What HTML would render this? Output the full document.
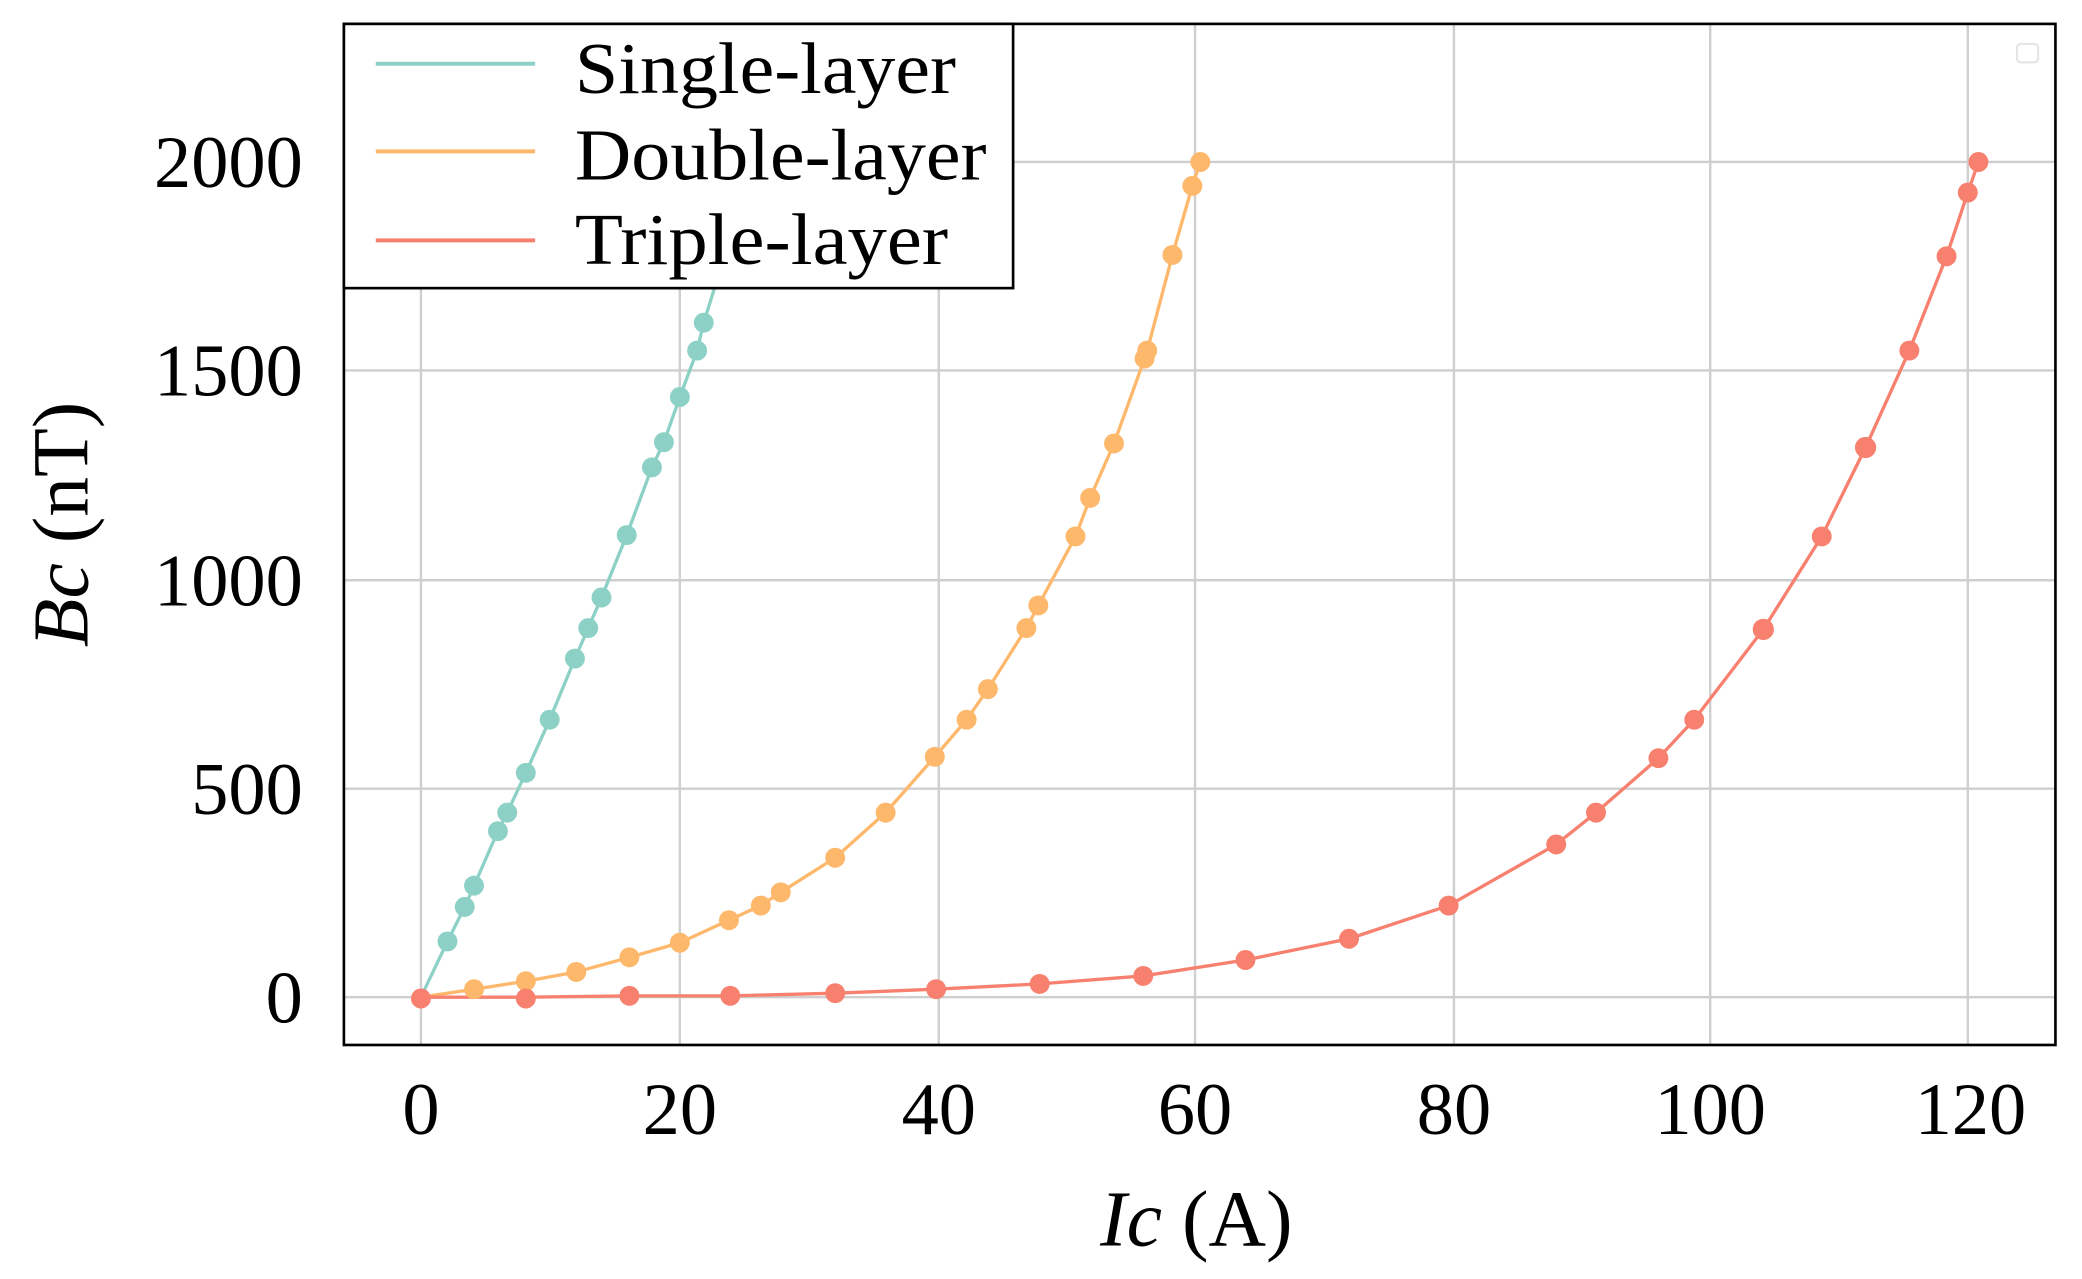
<!DOCTYPE html>
<html><head><meta charset="utf-8"><style>html,body{margin:0;padding:0;background:#fff}svg{display:block}</style></head>
<body>
<svg width="2082" height="1279" viewBox="0 0 2082 1279" xmlns="http://www.w3.org/2000/svg">
<g transform="scale(1.3278)" font-family="Liberation Serif, serif">
<rect x="0" y="0" width="1568" height="964" fill="#fff"/>
<g stroke="#cfcfcf" stroke-width="1.8">
<line x1="317" y1="18" x2="317" y2="787"/><line x1="512" y1="18" x2="512" y2="787"/>
<line x1="707" y1="18" x2="707" y2="787"/><line x1="900" y1="18" x2="900" y2="787"/>
<line x1="1095" y1="18" x2="1095" y2="787"/><line x1="1288" y1="18" x2="1288" y2="787"/>
<line x1="1482" y1="18" x2="1482" y2="787"/>
<line x1="259" y1="751" x2="1548" y2="751"/><line x1="259" y1="594" x2="1548" y2="594"/>
<line x1="259" y1="437" x2="1548" y2="437"/><line x1="259" y1="279" x2="1548" y2="279"/>
<line x1="259" y1="122" x2="1548" y2="122"/>
</g>
<rect x="1519" y="33" width="16" height="14" rx="3" fill="none" stroke="#e4e4e4" stroke-width="1.5"/>
<g fill="none" stroke-width="2.5" stroke-linejoin="round">
<polyline stroke="#8dd1c6" points="317,751 337,709 350,683 357,667 375,626 382,612 396,582 414,542 433,496 443,473 453,450 472,403 491,352 500,333 512,299 525,264 530,243 545,195 560,140"/>
<polyline stroke="#fdb86c" points="317,751 357,745 396,739 434,732 474,721 512,710 549,693 573,682 588,672 629,646 667,612 704,570 728,542 744,519 773,473 782,456 810,404 821,375 839,334 862,270 864,264 883,192 898,140 904,122"/>
<polyline stroke="#f7806f" points="317,751 396,751 474,750 550,750 629,748 705,745 783,741 861,735 938,723 1016,707 1091,682 1172,636 1202,612 1249,571 1276,542 1328,474 1372,404 1405,337 1438,264 1466,193 1482,145 1490,122"/>
</g>
<g fill="#8dd1c6">
<circle cx="337" cy="709" r="7.5"/><circle cx="350" cy="683" r="7.5"/><circle cx="357" cy="667" r="7.5"/><circle cx="375" cy="626" r="7.5"/><circle cx="382" cy="612" r="7.5"/><circle cx="396" cy="582" r="7.5"/><circle cx="414" cy="542" r="7.5"/><circle cx="433" cy="496" r="7.5"/><circle cx="443" cy="473" r="7.5"/><circle cx="453" cy="450" r="7.5"/><circle cx="472" cy="403" r="7.5"/><circle cx="491" cy="352" r="7.5"/><circle cx="500" cy="333" r="7.5"/><circle cx="512" cy="299" r="7.5"/><circle cx="525" cy="264" r="7.5"/><circle cx="530" cy="243" r="7.5"/>
</g>
<g fill="#fdb86c">
<circle cx="357" cy="745" r="7.5"/><circle cx="396" cy="739" r="7.5"/><circle cx="434" cy="732" r="7.5"/><circle cx="474" cy="721" r="7.5"/><circle cx="512" cy="710" r="7.5"/><circle cx="549" cy="693" r="7.5"/><circle cx="573" cy="682" r="7.5"/><circle cx="588" cy="672" r="7.5"/><circle cx="629" cy="646" r="7.5"/><circle cx="667" cy="612" r="7.5"/><circle cx="704" cy="570" r="7.5"/><circle cx="728" cy="542" r="7.5"/><circle cx="744" cy="519" r="7.5"/><circle cx="773" cy="473" r="7.5"/><circle cx="782" cy="456" r="7.5"/><circle cx="810" cy="404" r="7.5"/><circle cx="821" cy="375" r="7.5"/><circle cx="839" cy="334" r="7.5"/><circle cx="862" cy="270" r="7.5"/><circle cx="864" cy="264" r="7.5"/><circle cx="883" cy="192" r="7.5"/><circle cx="898" cy="140" r="7.5"/><circle cx="904" cy="122" r="7.5"/>
</g>
<g fill="#f7806f">
<circle cx="317" cy="752" r="7.5"/><circle cx="396" cy="752" r="7.5"/><circle cx="474" cy="750" r="7.5"/><circle cx="550" cy="750" r="7.5"/><circle cx="629" cy="748" r="7.5"/><circle cx="705" cy="745" r="7.5"/><circle cx="783" cy="741" r="7.5"/><circle cx="861" cy="735" r="7.5"/><circle cx="938" cy="723" r="7.5"/><circle cx="1016" cy="707" r="7.5"/><circle cx="1091" cy="682" r="7.5"/><circle cx="1172" cy="636" r="7.5"/><circle cx="1202" cy="612" r="7.5"/><circle cx="1249" cy="571" r="7.5"/><circle cx="1276" cy="542" r="7.5"/><circle cx="1328" cy="474" r="8"/><circle cx="1372" cy="404" r="7.5"/><circle cx="1405" cy="337" r="8"/><circle cx="1438" cy="264" r="7.5"/><circle cx="1466" cy="193" r="7.5"/><circle cx="1482" cy="145" r="7.5"/><circle cx="1490" cy="122" r="7.5"/>
</g>
<rect x="259" y="18" width="1289" height="769" fill="none" stroke="#000" stroke-width="2"/>
<rect x="259" y="18" width="504" height="199" fill="#fff" stroke="#000" stroke-width="2"/>
<g stroke-width="3">
<line x1="283" y1="48" x2="403" y2="48" stroke="#8dd1c6"/>
<line x1="283" y1="114" x2="403" y2="114" stroke="#fdb86c"/>
<line x1="283" y1="181" x2="403" y2="181" stroke="#f7806f"/>
</g>
<g font-size="55" fill="#000">
<text x="433" y="70" textLength="287" lengthAdjust="spacingAndGlyphs">Single-layer</text>
<text x="433" y="135" textLength="310" lengthAdjust="spacingAndGlyphs">Double-layer</text>
<text x="433" y="199" textLength="281" lengthAdjust="spacingAndGlyphs">Triple-layer</text>
</g>
<g font-size="56" fill="#000" text-anchor="end">
<text x="228" y="770">0</text><text x="228" y="613">500</text><text x="228" y="456">1000</text>
<text x="228" y="298">1500</text><text x="228" y="141">2000</text>
</g>
<g font-size="56" fill="#000" text-anchor="middle">
<text x="317" y="854">0</text><text x="512" y="854">20</text><text x="707" y="854">40</text>
<text x="900" y="854">60</text><text x="1095" y="854">80</text><text x="1288" y="854">100</text>
<text x="1484" y="854">120</text>
</g>
<text x="901" y="938" font-size="60" text-anchor="middle"><tspan font-style="italic">Ic</tspan> (A)</text>
<text transform="translate(66,395) rotate(-90)" font-size="60" text-anchor="middle"><tspan font-style="italic">Bc</tspan> (nT)</text>
</g>
</svg>
</body></html>
